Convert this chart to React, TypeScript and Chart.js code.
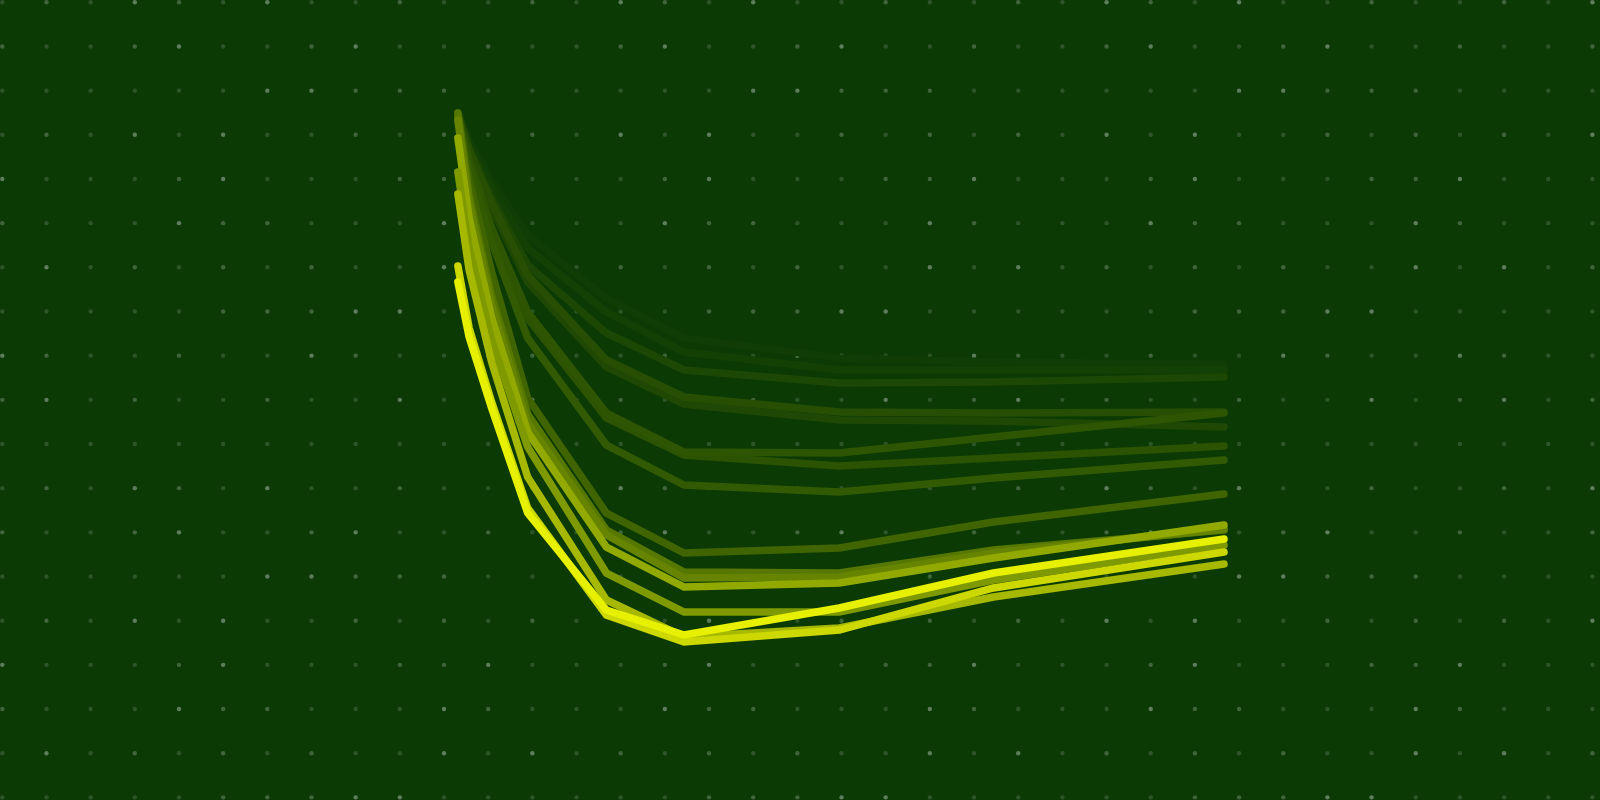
import { useEffect, useRef } from "react";
import { Chart, registerables } from "chart.js";

Chart.register(...registerables);

// x positions (training steps, arbitrary units)
const STEPS = [0, 1, 3, 6.2, 13.2, 20.1, 33.9, 47.6, 68.1];

// one array per run, brightest first
const RUN_01 = [5.18, 4.63, 3.92, 2.87, 1.9, 1.65, 1.92, 2.27, 2.61];
const RUN_02 = [5.34, 4.72, 3.98, 2.92, 1.85, 1.58, 1.7, 2.12, 2.48];
const RUN_03 = [6.06, 5.3, 4.38, 3.23, 2.0, 1.63, 1.72, 2.03, 2.36];
const RUN_04 = [6.28, 5.52, 4.6, 3.53, 2.27, 1.88, 1.88, 2.2, 2.55];
const RUN_05 = [6.62, 5.82, 4.82, 3.68, 2.53, 2.13, 2.17, 2.42, 2.75];
const RUN_06 = [6.8, 5.97, 4.95, 3.77, 2.65, 2.22, 2.23, 2.47, 2.71];
const RUN_07 = [6.87, 6.05, 5.04, 3.86, 2.7, 2.28, 2.27, 2.5, 2.7];
const RUN_08 = [6.82, 6.2, 5.28, 4.02, 2.87, 2.47, 2.52, 2.78, 3.06];
const RUN_09 = [6.84, 6.32, 5.58, 4.62, 3.55, 3.15, 3.08, 3.22, 3.4];
const RUN_10 = [6.85, 6.4, 5.72, 4.88, 3.87, 3.48, 3.47, 3.63, 3.87];
const RUN_11 = [6.83, 6.37, 5.68, 4.82, 3.82, 3.45, 3.34, 3.42, 3.54];
const RUN_12 = [6.86, 6.5, 5.97, 5.25, 4.4, 4.03, 3.88, 3.87, 3.88];
const RUN_13 = [6.86, 6.48, 5.92, 5.18, 4.33, 3.96, 3.8, 3.79, 3.73];
const RUN_14 = [6.87, 6.52, 6.02, 5.35, 4.67, 4.3, 4.17, 4.18, 4.23];
const RUN_15 = [6.88, 6.57, 6.12, 5.52, 4.88, 4.48, 4.3, 4.3, 4.3];
const RUN_16 = [6.88, 6.6, 6.2, 5.65, 5.02, 4.62, 4.42, 4.38, 4.36];

const RUNS = [
  RUN_01, RUN_02, RUN_03, RUN_04, RUN_05, RUN_06, RUN_07, RUN_08,
  RUN_09, RUN_10, RUN_11, RUN_12, RUN_13, RUN_14, RUN_15, RUN_16,
];

const RUN_COLORS = [
  "#e6f000", "#ccd800", "#a6b800", "#7e9a00", "#92aa00", "#668400", "#567800", "#3f6400",
  "#325a02", "#2e5602", "#2b5302", "#274f03", "#1f4804", "#1c4704", "#134005", "#103d05",
];

const BG = "#0b3a05";
const GRID_STEP = 44.17;
const GRID_OFFSET = 2.3;

// dotted backdrop behind the chart
const dotGrid = {
  id: "dotGrid",
  beforeDraw(chart: any) {
    const { ctx, width, height } = chart;
    ctx.save();
    ctx.fillStyle = BG;
    ctx.fillRect(0, 0, width, height);
    let i = 0;
    for (let x = GRID_OFFSET; x < width + 2; x += GRID_STEP, i++) {
      let j = 0;
      for (let y = GRID_OFFSET; y < height + 2; y += GRID_STEP, j++) {
        const h = (i * 73 + j * 151 + i * j * 7) % 11;
        const a = h < 6 ? 0.14 : h < 9 ? 0.22 : 0.34;
        ctx.fillStyle = `rgba(255,255,255,${a})`;
        ctx.beginPath();
        ctx.arc(x, y, 2.2, 0, Math.PI * 2);
        ctx.fill();
      }
    }
    ctx.restore();
  },
};

export default function App() {
  const canvasRef = useRef<HTMLCanvasElement>(null);

  useEffect(() => {
    document.body.style.margin = "0";
    if (!canvasRef.current) return;

    const chart = new Chart(canvasRef.current, {
      type: "line",
      data: {
        datasets: RUNS.map((run, i) => ({
          label: `run ${i + 1}`,
          data: run.map((v, k) => ({ x: STEPS[k], y: v })),
          borderColor: RUN_COLORS[i],
          borderWidth: 7.5,
          borderCapStyle: "round" as const,
          tension: 0,
          pointRadius: 0,
          fill: false,
        })),
      },
      options: {
        animation: false,
        responsive: true,
        maintainAspectRatio: false,
        devicePixelRatio: 1,
        layout: { padding: 0 },
        plugins: { legend: { display: false }, tooltip: { enabled: false } },
        scales: {
          x: { type: "linear", min: -40.7, max: 101.52, display: false },
          y: { type: "linear", min: 0, max: 8, display: false },
        },
      },
      plugins: [dotGrid],
    });

    return () => chart.destroy();
  }, []);

  return (
    <div style={{ position: "relative", width: 1600, height: 800, background: BG }}>
      <canvas ref={canvasRef} />
    </div>
  );
}
